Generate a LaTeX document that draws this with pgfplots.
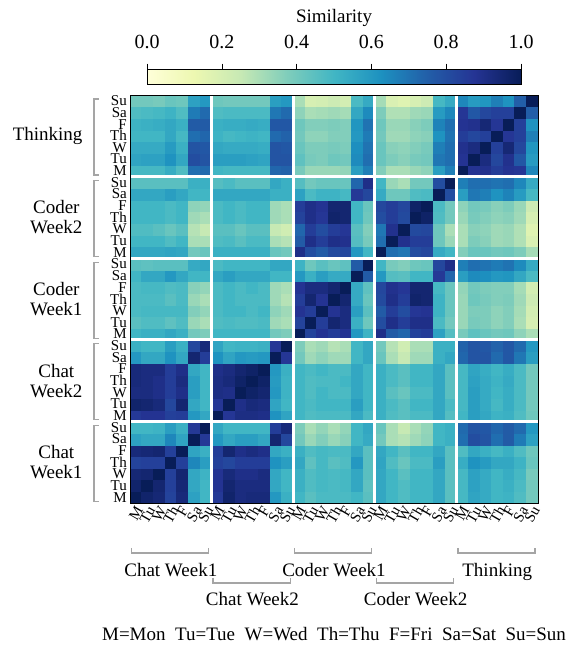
\documentclass[border=0pt]{standalone}
\usepackage{fontspec}
\setmainfont{Liberation Serif}
\usepackage{pgfplots}
\pgfplotsset{compat=1.18}
\usepackage{graphicx}
\newcommand{\rl}[1]{\rotatebox{60}{#1}}
\definecolor{brk}{RGB}{165,165,165}
\newcommand{\bigf}{\fontsize{19}{20}\selectfont}
\begin{document}
\begin{tikzpicture}[x=1pt,y=1pt]
\path[use as bounding box] (0,0) rectangle (576,648);
\begin{axis}[
  at={(130pt,145pt)}, anchor=south west,
  width=408pt, height=408pt, scale only axis,
  xmin=-0.5, xmax=34.5, ymin=-0.5, ymax=34.5,
  axis on top,
  axis line style={black, line width=0.8pt},
  colormap={ylgnbu}{rgb255=(255,255,217) rgb255=(237,248,177) rgb255=(199,233,180) rgb255=(127,205,187) rgb255=(65,182,196) rgb255=(29,145,192) rgb255=(34,94,168) rgb255=(37,52,148) rgb255=(8,29,88)},
  point meta min=0, point meta max=1,
  xtick={0,...,34}, ytick={0,...,34},
  major tick length=0pt,
  xticklabels={\rl{M},\rl{Tu},\rl{W},\rl{Th},\rl{F},\rl{Sa},\rl{Su},\rl{M},\rl{Tu},\rl{W},\rl{Th},\rl{F},\rl{Sa},\rl{Su},\rl{M},\rl{Tu},\rl{W},\rl{Th},\rl{F},\rl{Sa},\rl{Su},\rl{M},\rl{Tu},\rl{W},\rl{Th},\rl{F},\rl{Sa},\rl{Su},\rl{M},\rl{Tu},\rl{W},\rl{Th},\rl{F},\rl{Sa},\rl{Su}},
  yticklabels={M,Tu,W,Th,F,Sa,Su,M,Tu,W,Th,F,Sa,Su,M,Tu,W,Th,F,Sa,Su,M,Tu,W,Th,F,Sa,Su,M,Tu,W,Th,F,Sa,Su},
  ticklabel style={font=\fontsize{15}{15}\selectfont},
  xticklabel style={anchor=north, inner sep=2pt},
  yticklabel style={inner sep=3pt},
  colorbar horizontal,
  colorbar style={
    at={(parent axis.north)}, anchor=south, yshift=19pt,
    width=374pt, height=15pt, scale only axis,
    xtick={0,0.2,0.4,0.6,0.8,1},
    xtick pos=right, xticklabel pos=right,
    tick align=outside, major tick length=6pt,
    xtick style={black, line width=0.6pt},
    xticklabel style={font=\fontsize{20}{20}\selectfont, yshift=11pt, /pgf/number format/.cd, fixed, fixed zerofill, precision=1, assume math mode=true},
    axis line style={black, line width=0.6pt},
    ytick=\empty,
  },
]
\addplot[matrix plot*, mesh/cols=35, point meta=explicit] table[row sep=\\, x index=0, y index=1, meta index=2] {
x y c\\
0 0 1.00\\ 1 0 0.96\\ 2 0 0.94\\ 3 0 0.83\\ 4 0 0.93\\ 5 0 0.57\\ 6 0 0.50\\ 7 0 0.86\\ 8 0 0.96\\ 9 0 0.92\\ 10 0 0.93\\ 11 0 0.93\\ 12 0 0.60\\ 13 0 0.52\\ 14 0 0.50\\ 15 0 0.45\\ 16 0 0.48\\ 17 0 0.48\\ 18 0 0.48\\ 19 0 0.50\\ 20 0 0.45\\ 21 0 0.55\\ 22 0 0.50\\ 23 0 0.47\\ 24 0 0.50\\ 25 0 0.50\\ 26 0 0.55\\ 27 0 0.45\\ 28 0 0.49\\ 29 0 0.56\\ 30 0 0.54\\ 31 0 0.50\\ 32 0 0.51\\ 33 0 0.47\\ 34 0 0.40\\
0 1 0.96\\ 1 1 1.00\\ 2 1 0.95\\ 3 1 0.84\\ 4 1 0.94\\ 5 1 0.55\\ 6 1 0.50\\ 7 1 0.88\\ 8 1 0.95\\ 9 1 0.92\\ 10 1 0.92\\ 11 1 0.92\\ 12 1 0.55\\ 13 1 0.50\\ 14 1 0.52\\ 15 1 0.47\\ 16 1 0.49\\ 17 1 0.48\\ 18 1 0.49\\ 19 1 0.55\\ 20 1 0.44\\ 21 1 0.55\\ 22 1 0.50\\ 23 1 0.47\\ 24 1 0.50\\ 25 1 0.50\\ 26 1 0.55\\ 27 1 0.45\\ 28 1 0.49\\ 29 1 0.57\\ 30 1 0.54\\ 31 1 0.50\\ 32 1 0.52\\ 33 1 0.48\\ 34 1 0.40\\
0 2 0.94\\ 1 2 0.95\\ 2 2 1.00\\ 3 2 0.84\\ 4 2 0.95\\ 5 2 0.55\\ 6 2 0.51\\ 7 2 0.88\\ 8 2 0.93\\ 9 2 0.90\\ 10 2 0.90\\ 11 2 0.92\\ 12 2 0.55\\ 13 2 0.50\\ 14 2 0.52\\ 15 2 0.47\\ 16 2 0.49\\ 17 2 0.48\\ 18 2 0.49\\ 19 2 0.55\\ 20 2 0.45\\ 21 2 0.55\\ 22 2 0.50\\ 23 2 0.45\\ 24 2 0.50\\ 25 2 0.50\\ 26 2 0.55\\ 27 2 0.45\\ 28 2 0.49\\ 29 2 0.57\\ 30 2 0.54\\ 31 2 0.50\\ 32 2 0.53\\ 33 2 0.49\\ 34 2 0.39\\
0 3 0.83\\ 1 3 0.84\\ 2 3 0.84\\ 3 3 1.00\\ 4 3 0.84\\ 5 3 0.65\\ 6 3 0.58\\ 7 3 0.84\\ 8 3 0.82\\ 9 3 0.85\\ 10 3 0.85\\ 11 3 0.85\\ 12 3 0.62\\ 13 3 0.58\\ 14 3 0.55\\ 15 3 0.44\\ 16 3 0.49\\ 17 3 0.45\\ 18 3 0.47\\ 19 3 0.60\\ 20 3 0.45\\ 21 3 0.56\\ 22 3 0.47\\ 23 3 0.42\\ 24 3 0.48\\ 25 3 0.48\\ 26 3 0.58\\ 27 3 0.45\\ 28 3 0.53\\ 29 3 0.62\\ 30 3 0.59\\ 31 3 0.55\\ 32 3 0.55\\ 33 3 0.51\\ 34 3 0.42\\
0 4 0.93\\ 1 4 0.94\\ 2 4 0.95\\ 3 4 0.84\\ 4 4 1.00\\ 5 4 0.56\\ 6 4 0.52\\ 7 4 0.85\\ 8 4 0.95\\ 9 4 0.90\\ 10 4 0.92\\ 11 4 0.90\\ 12 4 0.55\\ 13 4 0.52\\ 14 4 0.52\\ 15 4 0.47\\ 16 4 0.49\\ 17 4 0.48\\ 18 4 0.48\\ 19 4 0.55\\ 20 4 0.45\\ 21 4 0.55\\ 22 4 0.50\\ 23 4 0.45\\ 24 4 0.50\\ 25 4 0.50\\ 26 4 0.55\\ 27 4 0.45\\ 28 4 0.47\\ 29 4 0.55\\ 30 4 0.52\\ 31 4 0.49\\ 32 4 0.52\\ 33 4 0.47\\ 34 4 0.41\\
0 5 0.57\\ 1 5 0.55\\ 2 5 0.55\\ 3 5 0.65\\ 4 5 0.56\\ 5 5 1.00\\ 6 5 0.86\\ 7 5 0.60\\ 8 5 0.55\\ 9 5 0.58\\ 10 5 0.58\\ 11 5 0.55\\ 12 5 0.95\\ 13 5 0.82\\ 14 5 0.40\\ 15 5 0.33\\ 16 5 0.37\\ 17 5 0.33\\ 18 5 0.36\\ 19 5 0.50\\ 20 5 0.54\\ 21 5 0.40\\ 22 5 0.30\\ 23 5 0.28\\ 24 5 0.32\\ 25 5 0.35\\ 26 5 0.50\\ 27 5 0.52\\ 28 5 0.71\\ 29 5 0.80\\ 30 5 0.78\\ 31 5 0.71\\ 32 5 0.76\\ 33 5 0.68\\ 34 5 0.57\\
0 6 0.50\\ 1 6 0.50\\ 2 6 0.51\\ 3 6 0.58\\ 4 6 0.52\\ 5 6 0.86\\ 6 6 1.00\\ 7 6 0.55\\ 8 6 0.50\\ 9 6 0.50\\ 10 6 0.50\\ 11 6 0.50\\ 12 6 0.85\\ 13 6 0.93\\ 14 6 0.38\\ 15 6 0.30\\ 16 6 0.34\\ 17 6 0.30\\ 18 6 0.34\\ 19 6 0.50\\ 20 6 0.55\\ 21 6 0.42\\ 22 6 0.30\\ 23 6 0.25\\ 24 6 0.30\\ 25 6 0.34\\ 26 6 0.50\\ 27 6 0.52\\ 28 6 0.72\\ 29 6 0.78\\ 30 6 0.77\\ 31 6 0.73\\ 32 6 0.76\\ 33 6 0.72\\ 34 6 0.60\\
0 7 0.86\\ 1 7 0.88\\ 2 7 0.88\\ 3 7 0.84\\ 4 7 0.85\\ 5 7 0.60\\ 6 7 0.55\\ 7 7 1.00\\ 8 7 0.87\\ 9 7 0.91\\ 10 7 0.91\\ 11 7 0.90\\ 12 7 0.62\\ 13 7 0.56\\ 14 7 0.50\\ 15 7 0.47\\ 16 7 0.48\\ 17 7 0.48\\ 18 7 0.48\\ 19 7 0.55\\ 20 7 0.48\\ 21 7 0.52\\ 22 7 0.47\\ 23 7 0.45\\ 24 7 0.48\\ 25 7 0.48\\ 26 7 0.55\\ 27 7 0.46\\ 28 7 0.50\\ 29 7 0.58\\ 30 7 0.55\\ 31 7 0.51\\ 32 7 0.52\\ 33 7 0.47\\ 34 7 0.41\\
0 8 0.96\\ 1 8 0.95\\ 2 8 0.93\\ 3 8 0.82\\ 4 8 0.95\\ 5 8 0.55\\ 6 8 0.50\\ 7 8 0.87\\ 8 8 1.00\\ 9 8 0.90\\ 10 8 0.93\\ 11 8 0.92\\ 12 8 0.56\\ 13 8 0.50\\ 14 8 0.50\\ 15 8 0.48\\ 16 8 0.50\\ 17 8 0.50\\ 18 8 0.50\\ 19 8 0.58\\ 20 8 0.50\\ 21 8 0.52\\ 22 8 0.48\\ 23 8 0.45\\ 24 8 0.50\\ 25 8 0.50\\ 26 8 0.55\\ 27 8 0.48\\ 28 8 0.49\\ 29 8 0.58\\ 30 8 0.54\\ 31 8 0.49\\ 32 8 0.53\\ 33 8 0.48\\ 34 8 0.40\\
0 9 0.92\\ 1 9 0.92\\ 2 9 0.90\\ 3 9 0.85\\ 4 9 0.90\\ 5 9 0.58\\ 6 9 0.50\\ 7 9 0.91\\ 8 9 0.90\\ 9 9 1.00\\ 10 9 0.97\\ 11 9 0.95\\ 12 9 0.60\\ 13 9 0.51\\ 14 9 0.50\\ 15 9 0.47\\ 16 9 0.50\\ 17 9 0.48\\ 18 9 0.48\\ 19 9 0.55\\ 20 9 0.50\\ 21 9 0.52\\ 22 9 0.45\\ 23 9 0.42\\ 24 9 0.48\\ 25 9 0.48\\ 26 9 0.55\\ 27 9 0.45\\ 28 9 0.49\\ 29 9 0.58\\ 30 9 0.54\\ 31 9 0.50\\ 32 9 0.53\\ 33 9 0.48\\ 34 9 0.40\\
0 10 0.93\\ 1 10 0.92\\ 2 10 0.90\\ 3 10 0.85\\ 4 10 0.92\\ 5 10 0.58\\ 6 10 0.50\\ 7 10 0.91\\ 8 10 0.93\\ 9 10 0.97\\ 10 10 1.00\\ 11 10 0.97\\ 12 10 0.59\\ 13 10 0.51\\ 14 10 0.50\\ 15 10 0.47\\ 16 10 0.48\\ 17 10 0.48\\ 18 10 0.50\\ 19 10 0.55\\ 20 10 0.50\\ 21 10 0.52\\ 22 10 0.48\\ 23 10 0.45\\ 24 10 0.50\\ 25 10 0.50\\ 26 10 0.55\\ 27 10 0.45\\ 28 10 0.49\\ 29 10 0.57\\ 30 10 0.54\\ 31 10 0.51\\ 32 10 0.54\\ 33 10 0.48\\ 34 10 0.40\\
0 11 0.93\\ 1 11 0.92\\ 2 11 0.92\\ 3 11 0.85\\ 4 11 0.90\\ 5 11 0.55\\ 6 11 0.50\\ 7 11 0.90\\ 8 11 0.92\\ 9 11 0.95\\ 10 11 0.97\\ 11 11 1.00\\ 12 11 0.60\\ 13 11 0.52\\ 14 11 0.50\\ 15 11 0.48\\ 16 11 0.50\\ 17 11 0.48\\ 18 11 0.48\\ 19 11 0.55\\ 20 11 0.50\\ 21 11 0.52\\ 22 11 0.48\\ 23 11 0.45\\ 24 11 0.50\\ 25 11 0.50\\ 26 11 0.55\\ 27 11 0.45\\ 28 11 0.49\\ 29 11 0.56\\ 30 11 0.53\\ 31 11 0.50\\ 32 11 0.53\\ 33 11 0.48\\ 34 11 0.40\\
0 12 0.60\\ 1 12 0.55\\ 2 12 0.55\\ 3 12 0.62\\ 4 12 0.55\\ 5 12 0.95\\ 6 12 0.85\\ 7 12 0.62\\ 8 12 0.56\\ 9 12 0.60\\ 10 12 0.59\\ 11 12 0.60\\ 12 12 1.00\\ 13 12 0.87\\ 14 12 0.40\\ 15 12 0.32\\ 16 12 0.35\\ 17 12 0.32\\ 18 12 0.32\\ 19 12 0.50\\ 20 12 0.55\\ 21 12 0.42\\ 22 12 0.30\\ 23 12 0.25\\ 24 12 0.32\\ 25 12 0.32\\ 26 12 0.52\\ 27 12 0.55\\ 28 12 0.73\\ 29 12 0.78\\ 30 12 0.78\\ 31 12 0.72\\ 32 12 0.77\\ 33 12 0.69\\ 34 12 0.58\\
0 13 0.52\\ 1 13 0.50\\ 2 13 0.50\\ 3 13 0.58\\ 4 13 0.52\\ 5 13 0.82\\ 6 13 0.93\\ 7 13 0.56\\ 8 13 0.50\\ 9 13 0.51\\ 10 13 0.51\\ 11 13 0.52\\ 12 13 0.87\\ 13 13 1.00\\ 14 13 0.38\\ 15 13 0.30\\ 16 13 0.32\\ 17 13 0.28\\ 18 13 0.30\\ 19 13 0.50\\ 20 13 0.55\\ 21 13 0.40\\ 22 13 0.28\\ 23 13 0.22\\ 24 13 0.30\\ 25 13 0.30\\ 26 13 0.52\\ 27 13 0.52\\ 28 13 0.74\\ 29 13 0.78\\ 30 13 0.77\\ 31 13 0.74\\ 32 13 0.77\\ 33 13 0.72\\ 34 13 0.60\\
0 14 0.50\\ 1 14 0.52\\ 2 14 0.52\\ 3 14 0.55\\ 4 14 0.52\\ 5 14 0.40\\ 6 14 0.38\\ 7 14 0.50\\ 8 14 0.50\\ 9 14 0.50\\ 10 14 0.50\\ 11 14 0.50\\ 12 14 0.40\\ 13 14 0.38\\ 14 14 1.00\\ 15 14 0.83\\ 16 14 0.88\\ 17 14 0.85\\ 18 14 0.88\\ 19 14 0.60\\ 20 14 0.51\\ 21 14 0.90\\ 22 14 0.76\\ 23 14 0.73\\ 24 14 0.83\\ 25 14 0.85\\ 26 14 0.57\\ 27 14 0.46\\ 28 14 0.39\\ 29 14 0.44\\ 30 14 0.42\\ 31 14 0.40\\ 32 14 0.41\\ 33 14 0.35\\ 34 14 0.30\\
0 15 0.45\\ 1 15 0.47\\ 2 15 0.47\\ 3 15 0.44\\ 4 15 0.47\\ 5 15 0.33\\ 6 15 0.30\\ 7 15 0.47\\ 8 15 0.48\\ 9 15 0.47\\ 10 15 0.47\\ 11 15 0.48\\ 12 15 0.32\\ 13 15 0.30\\ 14 15 0.83\\ 15 15 1.00\\ 16 15 0.85\\ 17 15 0.95\\ 18 15 0.92\\ 19 15 0.52\\ 20 15 0.41\\ 21 15 0.80\\ 22 15 0.90\\ 23 15 0.85\\ 24 15 0.90\\ 25 15 0.90\\ 26 15 0.48\\ 27 15 0.40\\ 28 15 0.33\\ 29 15 0.39\\ 30 15 0.38\\ 31 15 0.35\\ 32 15 0.37\\ 33 15 0.30\\ 34 15 0.20\\
0 16 0.48\\ 1 16 0.49\\ 2 16 0.49\\ 3 16 0.49\\ 4 16 0.49\\ 5 16 0.37\\ 6 16 0.34\\ 7 16 0.48\\ 8 16 0.50\\ 9 16 0.50\\ 10 16 0.48\\ 11 16 0.50\\ 12 16 0.35\\ 13 16 0.32\\ 14 16 0.88\\ 15 16 0.85\\ 16 16 1.00\\ 17 16 0.88\\ 18 16 0.92\\ 19 16 0.58\\ 20 16 0.45\\ 21 16 0.76\\ 22 16 0.85\\ 23 16 0.80\\ 24 16 0.87\\ 25 16 0.88\\ 26 16 0.51\\ 27 16 0.42\\ 28 16 0.33\\ 29 16 0.38\\ 30 16 0.38\\ 31 16 0.35\\ 32 16 0.37\\ 33 16 0.31\\ 34 16 0.21\\
0 17 0.48\\ 1 17 0.48\\ 2 17 0.48\\ 3 17 0.45\\ 4 17 0.48\\ 5 17 0.33\\ 6 17 0.30\\ 7 17 0.48\\ 8 17 0.50\\ 9 17 0.48\\ 10 17 0.48\\ 11 17 0.48\\ 12 17 0.32\\ 13 17 0.28\\ 14 17 0.85\\ 15 17 0.95\\ 16 17 0.88\\ 17 17 1.00\\ 18 17 0.95\\ 19 17 0.54\\ 20 17 0.42\\ 21 17 0.81\\ 22 17 0.90\\ 23 17 0.85\\ 24 17 0.96\\ 25 17 0.95\\ 26 17 0.51\\ 27 17 0.42\\ 28 17 0.33\\ 29 17 0.41\\ 30 17 0.39\\ 31 17 0.37\\ 32 17 0.38\\ 33 17 0.32\\ 34 17 0.23\\
0 18 0.48\\ 1 18 0.49\\ 2 18 0.49\\ 3 18 0.47\\ 4 18 0.48\\ 5 18 0.36\\ 6 18 0.34\\ 7 18 0.48\\ 8 18 0.50\\ 9 18 0.48\\ 10 18 0.50\\ 11 18 0.48\\ 12 18 0.32\\ 13 18 0.30\\ 14 18 0.88\\ 15 18 0.92\\ 16 18 0.92\\ 17 18 0.95\\ 18 18 1.00\\ 19 18 0.54\\ 20 18 0.44\\ 21 18 0.82\\ 22 18 0.89\\ 23 18 0.87\\ 24 18 0.95\\ 25 18 0.95\\ 26 18 0.49\\ 27 18 0.42\\ 28 18 0.34\\ 29 18 0.40\\ 30 18 0.38\\ 31 18 0.37\\ 32 18 0.37\\ 33 18 0.31\\ 34 18 0.21\\
0 19 0.50\\ 1 19 0.55\\ 2 19 0.55\\ 3 19 0.60\\ 4 19 0.55\\ 5 19 0.50\\ 6 19 0.50\\ 7 19 0.55\\ 8 19 0.58\\ 9 19 0.55\\ 10 19 0.55\\ 11 19 0.55\\ 12 19 0.50\\ 13 19 0.50\\ 14 19 0.60\\ 15 19 0.52\\ 16 19 0.58\\ 17 19 0.54\\ 18 19 0.54\\ 19 19 1.00\\ 20 19 0.76\\ 21 19 0.60\\ 22 19 0.46\\ 23 19 0.45\\ 24 19 0.50\\ 25 19 0.50\\ 26 19 0.86\\ 27 19 0.73\\ 28 19 0.58\\ 29 19 0.64\\ 30 19 0.63\\ 31 19 0.60\\ 32 19 0.61\\ 33 19 0.55\\ 34 19 0.48\\
0 20 0.45\\ 1 20 0.44\\ 2 20 0.45\\ 3 20 0.45\\ 4 20 0.45\\ 5 20 0.54\\ 6 20 0.55\\ 7 20 0.48\\ 8 20 0.50\\ 9 20 0.50\\ 10 20 0.50\\ 11 20 0.50\\ 12 20 0.55\\ 13 20 0.55\\ 14 20 0.51\\ 15 20 0.41\\ 16 20 0.45\\ 17 20 0.42\\ 18 20 0.44\\ 19 20 0.76\\ 20 20 1.00\\ 21 20 0.50\\ 22 20 0.39\\ 23 20 0.37\\ 24 20 0.41\\ 25 20 0.42\\ 26 20 0.82\\ 27 20 0.90\\ 28 20 0.67\\ 29 20 0.71\\ 30 20 0.70\\ 31 20 0.68\\ 32 20 0.70\\ 33 20 0.64\\ 34 20 0.54\\
0 21 0.55\\ 1 21 0.55\\ 2 21 0.55\\ 3 21 0.56\\ 4 21 0.55\\ 5 21 0.40\\ 6 21 0.42\\ 7 21 0.52\\ 8 21 0.52\\ 9 21 0.52\\ 10 21 0.52\\ 11 21 0.52\\ 12 21 0.42\\ 13 21 0.40\\ 14 21 0.90\\ 15 21 0.80\\ 16 21 0.76\\ 17 21 0.81\\ 18 21 0.82\\ 19 21 0.60\\ 20 21 0.50\\ 21 21 1.00\\ 22 21 0.71\\ 23 21 0.69\\ 24 21 0.80\\ 25 21 0.82\\ 26 21 0.54\\ 27 21 0.50\\ 28 21 0.37\\ 29 21 0.42\\ 30 21 0.42\\ 31 21 0.40\\ 32 21 0.41\\ 33 21 0.38\\ 34 21 0.31\\
0 22 0.50\\ 1 22 0.50\\ 2 22 0.50\\ 3 22 0.47\\ 4 22 0.50\\ 5 22 0.30\\ 6 22 0.30\\ 7 22 0.47\\ 8 22 0.48\\ 9 22 0.45\\ 10 22 0.48\\ 11 22 0.48\\ 12 22 0.30\\ 13 22 0.28\\ 14 22 0.76\\ 15 22 0.90\\ 16 22 0.85\\ 17 22 0.90\\ 18 22 0.89\\ 19 22 0.46\\ 20 22 0.39\\ 21 22 0.71\\ 22 22 1.00\\ 23 22 0.89\\ 24 22 0.85\\ 25 22 0.85\\ 26 22 0.41\\ 27 22 0.33\\ 28 22 0.30\\ 29 22 0.38\\ 30 22 0.36\\ 31 22 0.32\\ 32 22 0.33\\ 33 22 0.29\\ 34 22 0.19\\
0 23 0.47\\ 1 23 0.47\\ 2 23 0.45\\ 3 23 0.42\\ 4 23 0.45\\ 5 23 0.28\\ 6 23 0.25\\ 7 23 0.45\\ 8 23 0.45\\ 9 23 0.42\\ 10 23 0.45\\ 11 23 0.45\\ 12 23 0.25\\ 13 23 0.22\\ 14 23 0.73\\ 15 23 0.85\\ 16 23 0.80\\ 17 23 0.85\\ 18 23 0.87\\ 19 23 0.45\\ 20 23 0.37\\ 21 23 0.69\\ 22 23 0.89\\ 23 23 1.00\\ 24 23 0.81\\ 25 23 0.82\\ 26 23 0.41\\ 27 23 0.30\\ 28 23 0.30\\ 29 23 0.36\\ 30 23 0.35\\ 31 23 0.32\\ 32 23 0.33\\ 33 23 0.29\\ 34 23 0.17\\
0 24 0.50\\ 1 24 0.50\\ 2 24 0.50\\ 3 24 0.48\\ 4 24 0.50\\ 5 24 0.32\\ 6 24 0.30\\ 7 24 0.48\\ 8 24 0.50\\ 9 24 0.48\\ 10 24 0.50\\ 11 24 0.50\\ 12 24 0.32\\ 13 24 0.30\\ 14 24 0.83\\ 15 24 0.90\\ 16 24 0.87\\ 17 24 0.96\\ 18 24 0.95\\ 19 24 0.50\\ 20 24 0.41\\ 21 24 0.80\\ 22 24 0.85\\ 23 24 0.81\\ 24 24 1.00\\ 25 24 0.97\\ 26 24 0.47\\ 27 24 0.40\\ 28 24 0.33\\ 29 24 0.39\\ 30 24 0.37\\ 31 24 0.35\\ 32 24 0.36\\ 33 24 0.32\\ 34 24 0.20\\
0 25 0.50\\ 1 25 0.50\\ 2 25 0.50\\ 3 25 0.48\\ 4 25 0.50\\ 5 25 0.35\\ 6 25 0.34\\ 7 25 0.48\\ 8 25 0.50\\ 9 25 0.48\\ 10 25 0.50\\ 11 25 0.50\\ 12 25 0.32\\ 13 25 0.30\\ 14 25 0.85\\ 15 25 0.90\\ 16 25 0.88\\ 17 25 0.95\\ 18 25 0.95\\ 19 25 0.50\\ 20 25 0.42\\ 21 25 0.82\\ 22 25 0.85\\ 23 25 0.82\\ 24 25 0.97\\ 25 25 1.00\\ 26 25 0.48\\ 27 25 0.40\\ 28 25 0.35\\ 29 25 0.40\\ 30 25 0.39\\ 31 25 0.36\\ 32 25 0.38\\ 33 25 0.33\\ 34 25 0.23\\
0 26 0.55\\ 1 26 0.55\\ 2 26 0.55\\ 3 26 0.58\\ 4 26 0.55\\ 5 26 0.50\\ 6 26 0.50\\ 7 26 0.55\\ 8 26 0.55\\ 9 26 0.55\\ 10 26 0.55\\ 11 26 0.55\\ 12 26 0.52\\ 13 26 0.52\\ 14 26 0.57\\ 15 26 0.48\\ 16 26 0.51\\ 17 26 0.51\\ 18 26 0.49\\ 19 26 0.86\\ 20 26 0.82\\ 21 26 0.54\\ 22 26 0.41\\ 23 26 0.41\\ 24 26 0.47\\ 25 26 0.48\\ 26 26 1.00\\ 27 26 0.80\\ 28 26 0.58\\ 29 26 0.69\\ 30 26 0.67\\ 31 26 0.62\\ 32 26 0.66\\ 33 26 0.59\\ 34 26 0.49\\
0 27 0.45\\ 1 27 0.45\\ 2 27 0.45\\ 3 27 0.45\\ 4 27 0.45\\ 5 27 0.52\\ 6 27 0.52\\ 7 27 0.46\\ 8 27 0.48\\ 9 27 0.45\\ 10 27 0.45\\ 11 27 0.45\\ 12 27 0.55\\ 13 27 0.52\\ 14 27 0.46\\ 15 27 0.40\\ 16 27 0.42\\ 17 27 0.42\\ 18 27 0.42\\ 19 27 0.73\\ 20 27 0.90\\ 21 27 0.50\\ 22 27 0.33\\ 23 27 0.30\\ 24 27 0.40\\ 25 27 0.40\\ 26 27 0.80\\ 27 27 1.00\\ 28 27 0.67\\ 29 27 0.71\\ 30 27 0.71\\ 31 27 0.70\\ 32 27 0.71\\ 33 27 0.65\\ 34 27 0.54\\
0 28 0.49\\ 1 28 0.49\\ 2 28 0.49\\ 3 28 0.53\\ 4 28 0.47\\ 5 28 0.71\\ 6 28 0.72\\ 7 28 0.50\\ 8 28 0.49\\ 9 28 0.49\\ 10 28 0.49\\ 11 28 0.49\\ 12 28 0.73\\ 13 28 0.74\\ 14 28 0.39\\ 15 28 0.33\\ 16 28 0.33\\ 17 28 0.33\\ 18 28 0.34\\ 19 28 0.58\\ 20 28 0.67\\ 21 28 0.37\\ 22 28 0.30\\ 23 28 0.30\\ 24 28 0.33\\ 25 28 0.35\\ 26 28 0.58\\ 27 28 0.67\\ 28 28 1.00\\ 29 28 0.88\\ 30 28 0.89\\ 31 28 0.85\\ 32 28 0.88\\ 33 28 0.87\\ 34 28 0.65\\
0 29 0.56\\ 1 29 0.57\\ 2 29 0.57\\ 3 29 0.62\\ 4 29 0.55\\ 5 29 0.80\\ 6 29 0.78\\ 7 29 0.58\\ 8 29 0.58\\ 9 29 0.58\\ 10 29 0.57\\ 11 29 0.56\\ 12 29 0.78\\ 13 29 0.78\\ 14 29 0.44\\ 15 29 0.39\\ 16 29 0.38\\ 17 29 0.41\\ 18 29 0.40\\ 19 29 0.64\\ 20 29 0.71\\ 21 29 0.42\\ 22 29 0.38\\ 23 29 0.36\\ 24 29 0.39\\ 25 29 0.40\\ 26 29 0.69\\ 27 29 0.71\\ 28 29 0.88\\ 29 29 1.00\\ 30 29 0.92\\ 31 29 0.82\\ 32 29 0.89\\ 33 29 0.77\\ 34 29 0.59\\
0 30 0.54\\ 1 30 0.54\\ 2 30 0.54\\ 3 30 0.59\\ 4 30 0.52\\ 5 30 0.78\\ 6 30 0.77\\ 7 30 0.55\\ 8 30 0.54\\ 9 30 0.54\\ 10 30 0.54\\ 11 30 0.53\\ 12 30 0.78\\ 13 30 0.77\\ 14 30 0.42\\ 15 30 0.38\\ 16 30 0.38\\ 17 30 0.39\\ 18 30 0.38\\ 19 30 0.63\\ 20 30 0.70\\ 21 30 0.42\\ 22 30 0.36\\ 23 30 0.35\\ 24 30 0.37\\ 25 30 0.39\\ 26 30 0.67\\ 27 30 0.71\\ 28 30 0.89\\ 29 30 0.92\\ 30 30 1.00\\ 31 30 0.84\\ 32 30 0.94\\ 33 30 0.82\\ 34 30 0.61\\
0 31 0.50\\ 1 31 0.50\\ 2 31 0.50\\ 3 31 0.55\\ 4 31 0.49\\ 5 31 0.71\\ 6 31 0.73\\ 7 31 0.51\\ 8 31 0.49\\ 9 31 0.50\\ 10 31 0.51\\ 11 31 0.50\\ 12 31 0.72\\ 13 31 0.74\\ 14 31 0.40\\ 15 31 0.35\\ 16 31 0.35\\ 17 31 0.37\\ 18 31 0.37\\ 19 31 0.60\\ 20 31 0.68\\ 21 31 0.40\\ 22 31 0.32\\ 23 31 0.32\\ 24 31 0.35\\ 25 31 0.36\\ 26 31 0.62\\ 27 31 0.70\\ 28 31 0.85\\ 29 31 0.82\\ 30 31 0.84\\ 31 31 1.00\\ 32 31 0.87\\ 33 31 0.84\\ 34 31 0.67\\
0 32 0.51\\ 1 32 0.52\\ 2 32 0.53\\ 3 32 0.55\\ 4 32 0.52\\ 5 32 0.76\\ 6 32 0.76\\ 7 32 0.52\\ 8 32 0.53\\ 9 32 0.53\\ 10 32 0.54\\ 11 32 0.53\\ 12 32 0.77\\ 13 32 0.77\\ 14 32 0.41\\ 15 32 0.37\\ 16 32 0.37\\ 17 32 0.38\\ 18 32 0.37\\ 19 32 0.61\\ 20 32 0.70\\ 21 32 0.41\\ 22 32 0.33\\ 23 32 0.33\\ 24 32 0.36\\ 25 32 0.38\\ 26 32 0.66\\ 27 32 0.71\\ 28 32 0.88\\ 29 32 0.89\\ 30 32 0.94\\ 31 32 0.87\\ 32 32 1.00\\ 33 32 0.84\\ 34 32 0.62\\
0 33 0.47\\ 1 33 0.48\\ 2 33 0.49\\ 3 33 0.51\\ 4 33 0.47\\ 5 33 0.68\\ 6 33 0.72\\ 7 33 0.47\\ 8 33 0.48\\ 9 33 0.48\\ 10 33 0.48\\ 11 33 0.48\\ 12 33 0.69\\ 13 33 0.72\\ 14 33 0.35\\ 15 33 0.30\\ 16 33 0.31\\ 17 33 0.32\\ 18 33 0.31\\ 19 33 0.55\\ 20 33 0.64\\ 21 33 0.38\\ 22 33 0.29\\ 23 33 0.29\\ 24 33 0.32\\ 25 33 0.33\\ 26 33 0.59\\ 27 33 0.65\\ 28 33 0.87\\ 29 33 0.77\\ 30 33 0.82\\ 31 33 0.84\\ 32 33 0.84\\ 33 33 1.00\\ 34 33 0.75\\
0 34 0.40\\ 1 34 0.40\\ 2 34 0.39\\ 3 34 0.42\\ 4 34 0.41\\ 5 34 0.57\\ 6 34 0.60\\ 7 34 0.41\\ 8 34 0.40\\ 9 34 0.40\\ 10 34 0.40\\ 11 34 0.40\\ 12 34 0.58\\ 13 34 0.60\\ 14 34 0.30\\ 15 34 0.20\\ 16 34 0.21\\ 17 34 0.23\\ 18 34 0.21\\ 19 34 0.48\\ 20 34 0.54\\ 21 34 0.31\\ 22 34 0.19\\ 23 34 0.17\\ 24 34 0.20\\ 25 34 0.23\\ 26 34 0.49\\ 27 34 0.54\\ 28 34 0.65\\ 29 34 0.59\\ 30 34 0.61\\ 31 34 0.67\\ 32 34 0.62\\ 33 34 0.75\\ 34 34 1.00\\
};
\draw[white, line width=3.3pt] (axis cs:6.5,-0.5) -- (axis cs:6.5,34.5);
\draw[white, line width=3.3pt] (axis cs:13.5,-0.5) -- (axis cs:13.5,34.5);
\draw[white, line width=3.3pt] (axis cs:20.5,-0.5) -- (axis cs:20.5,34.5);
\draw[white, line width=3.3pt] (axis cs:27.5,-0.5) -- (axis cs:27.5,34.5);
\draw[white, line width=3.3pt] (axis cs:-0.5,6.5) -- (axis cs:34.5,6.5);
\draw[white, line width=3.3pt] (axis cs:-0.5,13.5) -- (axis cs:34.5,13.5);
\draw[white, line width=3.3pt] (axis cs:-0.5,20.5) -- (axis cs:34.5,20.5);
\draw[white, line width=3.3pt] (axis cs:-0.5,27.5) -- (axis cs:34.5,27.5);
\end{axis}
% colorbar label
\node[anchor=base, font=\bigf] at (334,625) {Similarity};
% left brackets
\draw[brk, line width=1.3pt] (99,146.6) -- (94,146.6) -- (94,222.6) -- (99,222.6);
\draw[brk, line width=1.3pt] (99,228.2) -- (94,228.2) -- (94,304.2) -- (99,304.2);
\draw[brk, line width=1.3pt] (99,309.8) -- (94,309.8) -- (94,385.8) -- (99,385.8);
\draw[brk, line width=1.3pt] (99,391.4) -- (94,391.4) -- (94,467.4) -- (99,467.4);
\draw[brk, line width=1.3pt] (99,473.0) -- (94,473.0) -- (94,549.0) -- (99,549.0);
\node[anchor=east, align=center, font=\bigf] at (86,185.8) {Chat\\Week1};
\node[anchor=east, align=center, font=\bigf] at (86,267.4) {Chat\\Week2};
\node[anchor=east, align=center, font=\bigf] at (86,349.0) {Coder\\Week1};
\node[anchor=east, align=center, font=\bigf] at (86,430.6) {Coder\\Week2};
\node[anchor=east, align=center, font=\bigf] at (86,512.2) {Thinking};
% bottom brackets, tier 1
\draw[brk, line width=1.3pt] (131.5,100) -- (131.5,95) -- (208.6,95) -- (208.6,100);
\draw[brk, line width=1.3pt] (294.7,100) -- (294.7,95) -- (371.8,95) -- (371.8,100);
\draw[brk, line width=1.3pt] (457.9,100) -- (457.9,95) -- (535.0,95) -- (535.0,100);
\node[anchor=base, font=\bigf] at (170.8,71) {Chat Week1};
\node[anchor=base, font=\bigf] at (334.0,71) {Coder Week1};
\node[anchor=base, font=\bigf] at (497.2,71) {Thinking};
% bottom brackets, tier 2
\draw[brk, line width=1.3pt] (213.1,70) -- (213.1,65) -- (290.2,65) -- (290.2,70);
\draw[brk, line width=1.3pt] (376.3,70) -- (376.3,65) -- (453.4,65) -- (453.4,70);
\node[anchor=base, font=\bigf] at (252.4,42) {Chat Week2};
\node[anchor=base, font=\bigf] at (415.6,42) {Coder Week2};
% footer
\node[anchor=base, font=\bigf] at (334,8) {M=Mon\enspace Tu=Tue\enspace W=Wed\enspace Th=Thu\enspace F=Fri\enspace Sa=Sat\enspace Su=Sun};
\end{tikzpicture}
\end{document}
